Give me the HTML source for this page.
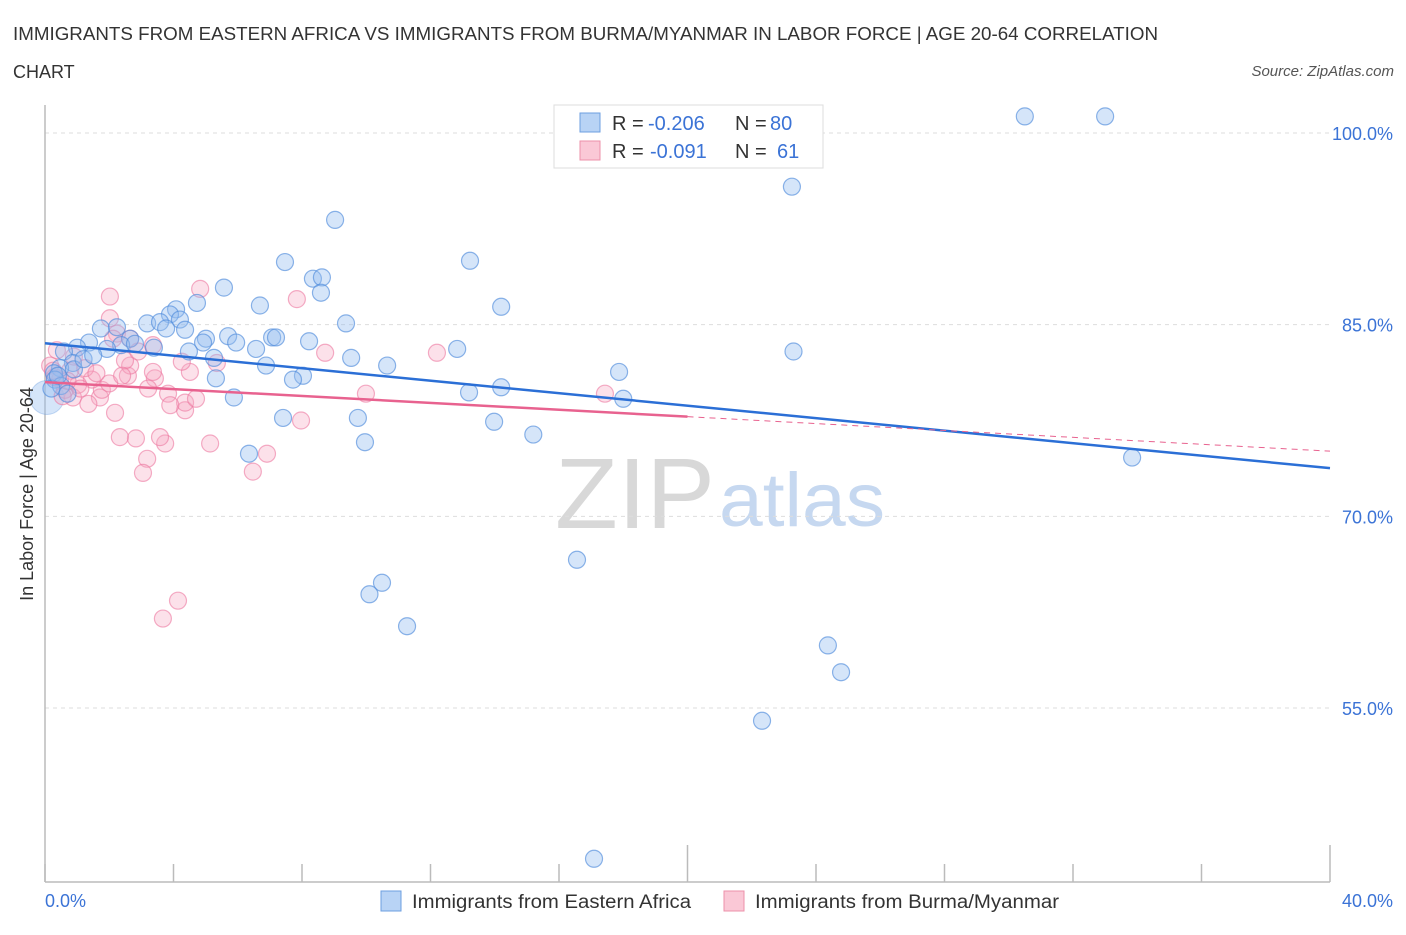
<!DOCTYPE html>
<html><head><meta charset="utf-8"><style>
body{margin:0;background:#fff;font-family:"Liberation Sans",sans-serif;}
svg text{font-family:"Liberation Sans",sans-serif;}
</style></head><body>
<svg id="chart" width="1406" height="930" xmlns="http://www.w3.org/2000/svg">
<text x="13" y="40" font-size="18" fill="#333" textLength="1145" lengthAdjust="spacingAndGlyphs">IMMIGRANTS FROM EASTERN AFRICA VS IMMIGRANTS FROM BURMA/MYANMAR IN LABOR FORCE | AGE 20-64 CORRELATION</text>
<text x="13" y="78" font-size="18" fill="#333">CHART</text>
<text x="1394" y="76" font-size="15" fill="#555" text-anchor="end" font-style="italic">Source: ZipAtlas.com</text>
<g>
<text x="635" y="528" font-size="100" fill="#d8d8d8" font-family="Liberation Serif" text-anchor="middle" textLength="160" lengthAdjust="spacingAndGlyphs">ZIP</text>
<text x="802" y="526" font-size="76" fill="#c6d8f0" text-anchor="middle" textLength="166" lengthAdjust="spacingAndGlyphs">atlas</text>
</g>
<g id="grid"></g>
<g id="axes"></g>
<g id="marks"></g>
<g id="trend"></g>
<text transform="translate(33,494) rotate(-90)" font-size="18" fill="#333" text-anchor="middle">In Labor Force | Age 20-64</text>
<text x="45" y="907" font-size="18" fill="#3b73d6">0.0%</text>
<text x="1393" y="907" font-size="18" fill="#3b73d6" text-anchor="end">40.0%</text>
<g>
<rect x="554" y="105" width="269" height="63" fill="#fff" stroke="#ddd"/>
<rect x="580" y="113" width="20" height="19" fill="#b8d3f5" stroke="#6d9fe0"/>
<rect x="580" y="141" width="20" height="19" fill="#fac8d6" stroke="#ec90aa"/>
<text x="612" y="130" font-size="20" fill="#333">R =</text>
<text x="648" y="130" font-size="20" fill="#3b73d6">-0.206</text>
<text x="735" y="130" font-size="20" fill="#333">N =</text>
<text x="770" y="130" font-size="20" fill="#3b73d6">80</text>
<text x="612" y="158" font-size="20" fill="#333">R =</text>
<text x="650" y="158" font-size="20" fill="#3b73d6">-0.091</text>
<text x="735" y="158" font-size="20" fill="#333">N =</text>
<text x="777" y="158" font-size="20" fill="#3b73d6">61</text>
</g>
<g>
<rect x="381" y="891" width="20" height="20" fill="#b8d3f5" stroke="#6d9fe0"/>
<text x="412" y="908" font-size="19" fill="#333" textLength="279" lengthAdjust="spacingAndGlyphs">Immigrants from Eastern Africa</text>
<rect x="724" y="891" width="20" height="20" fill="#fac8d6" stroke="#ec90aa"/>
<text x="755" y="908" font-size="19" fill="#333" textLength="304" lengthAdjust="spacingAndGlyphs">Immigrants from Burma/Myanmar</text>
</g>
</svg>
<script>
const yTicks=[55,70,85,100];
const yTickLabels=["55.0%","70.0%","85.0%","100.0%"];
const xTicks=[0,4,8,12,16,20,24,28,32,36,40];
const blueX=[30.5,33.0,23.25,9.03,13.23,7.47,8.34,8.62,8.59,5.57,4.73,6.69,14.2,4.08,3.89,4.20,9.37,3.18,3.58,1.74,2.24,4.36,3.77,5.70,7.07,7.19,5.01,4.92,5.95,2.65,2.37,8.22,3.39,1.37,1.0,1.93,0.59,4.48,6.57,12.83,23.3,9.53,5.26,10.65,6.88,0.87,0.47,0.28,17.87,5.32,8.03,7.72,14.2,13.2,18.0,5.88,7.41,9.74,13.98,15.2,9.96,6.35,33.84,16.56,10.49,10.1,11.27,24.37,24.78,22.32,17.09,0.31,0.5,0.9,1.2,0.2,0.7,1.5,0.4,2.8];
const blueY=[101.3,101.3,95.8,93.2,90.0,89.9,88.6,88.7,87.5,87.9,86.7,86.5,86.4,86.2,85.8,85.4,85.1,85.1,85.2,84.7,84.8,84.6,84.7,84.1,84.0,84.0,83.9,83.6,83.6,83.9,83.4,83.7,83.2,83.6,83.2,83.1,82.9,82.9,83.1,83.1,82.9,82.4,82.4,81.8,81.8,82.0,81.6,81.2,81.3,80.8,81.0,80.7,80.1,79.7,79.2,79.3,77.7,77.7,77.4,76.4,75.8,74.9,74.6,66.6,64.8,63.9,61.4,59.9,57.8,54.0,43.2,80.7,80.2,81.5,82.3,80.0,79.6,82.6,81.0,83.5];
const pinkX=[2.02,4.83,2.02,7.84,8.72,12.2,9.99,7.97,6.91,6.47,5.14,3.74,3.58,2.83,2.33,3.18,3.05,2.18,4.36,4.36,4.70,4.51,4.26,3.83,3.42,3.36,3.21,2.58,2.65,2.49,3.36,2.24,1.71,1.77,1.46,0.87,5.35,0.37,2.12,2.65,4.14,3.67,17.43,0.47,0.78,1.25,0.16,0.62,1.03,0.3,0.9,1.6,2.0,2.9,0.55,1.35,0.25,1.1,3.9,2.4,0.7];
const pinkY=[87.2,87.8,85.5,87.0,82.8,82.8,79.6,77.5,74.9,73.5,75.7,75.7,76.2,76.1,76.2,74.5,73.4,78.1,78.3,78.9,79.2,81.3,82.1,79.6,80.8,81.3,80.0,81.0,81.8,82.2,83.4,84.3,79.3,79.9,80.7,79.3,82.0,83.0,83.9,83.9,63.4,62.0,79.6,80.7,81.4,81.6,81.8,79.9,80.3,80.9,82.5,81.2,80.4,82.9,79.4,78.8,81.4,80.0,78.7,81.0,80.6];
const blueTrend=[83.55,73.77];
const pinkTrend=[80.5,75.1];
const pinkSolidEnd=20;

const NS="http://www.w3.org/2000/svg";
const X0=45,X1=1330,YT=133,YB=708;
function sx(v){return X0+(v/40)*(X1-X0);}
function sy(v){return YT+(100-v)*(YB-YT)/45;}
function mk(tag,attrs,parent){const e=document.createElementNS(NS,tag);for(const k in attrs)e.setAttribute(k,attrs[k]);document.getElementById(parent).appendChild(e);return e;}

yTicks.forEach((t,i)=>{
 const g=mk('line',{x1:X0,x2:X1,y1:sy(t),y2:sy(t),stroke:'#ddd','stroke-dasharray':'4,4'},'grid');
 
 
 const l=mk('text',{x:1393,y:sy(t)+7,'font-size':18,fill:'#3b73d6','text-anchor':'end'},'grid');
 
 
 l.textContent=yTickLabels[i];
});
const ax=mk('line',{x1:X0,x2:X1,y1:882,y2:882,stroke:'#bbb','stroke-width':1.5},'axes');


const ay=mk('line',{x1:X0,x2:X0,y1:105,y2:882,stroke:'#bbb','stroke-width':1.5},'axes');


xTicks.forEach((t,i)=>{
 const major=(t===20||t===40);
 const tk=mk('line',{x1:sx(t),x2:sx(t),y1:major?845:864,y2:882,stroke:'#bbb','stroke-width':1.5},'axes');
 
 
});
const big=mk('circle',{cx:sx(0)+2,cy:sy(79.3),r:17,fill:'rgba(150,190,240,0.4)',stroke:'rgba(80,140,220,0.3)'},'marks');


pinkX.forEach((v,i)=>{
 const c=mk('circle',{cx:sx(v),cy:sy(pinkY[i]),r:8.5,fill:'rgba(246,170,195,0.35)',stroke:'rgba(236,120,160,0.6)','stroke-width':1.2},'marks');
 
 
});
blueX.forEach((v,i)=>{
 const c=mk('circle',{cx:sx(v),cy:sy(blueY[i]),r:8.5,fill:'rgba(150,190,240,0.4)',stroke:'rgba(80,140,220,0.65)','stroke-width':1.2},'marks');
 
 
});
const bt=mk('line',{x1:sx(0),y1:sy(blueTrend[0]),x2:sx(40),y2:sy(blueTrend[1]),stroke:'#2b6fd6','stroke-width':2.5},'trend');


const pm=pinkTrend[0]+(pinkTrend[1]-pinkTrend[0])*pinkSolidEnd/40;
const pt=mk('line',{x1:sx(0),y1:sy(pinkTrend[0]),x2:sx(pinkSolidEnd),y2:sy(pm),stroke:'#e8628f','stroke-width':2.5},'trend');


const pd=mk('line',{x1:sx(pinkSolidEnd),y1:sy(pm),x2:sx(40),y2:sy(pinkTrend[1]),stroke:'#e8628f','stroke-width':1,'stroke-dasharray':'6,5'},'trend');


</script>
</body></html>
